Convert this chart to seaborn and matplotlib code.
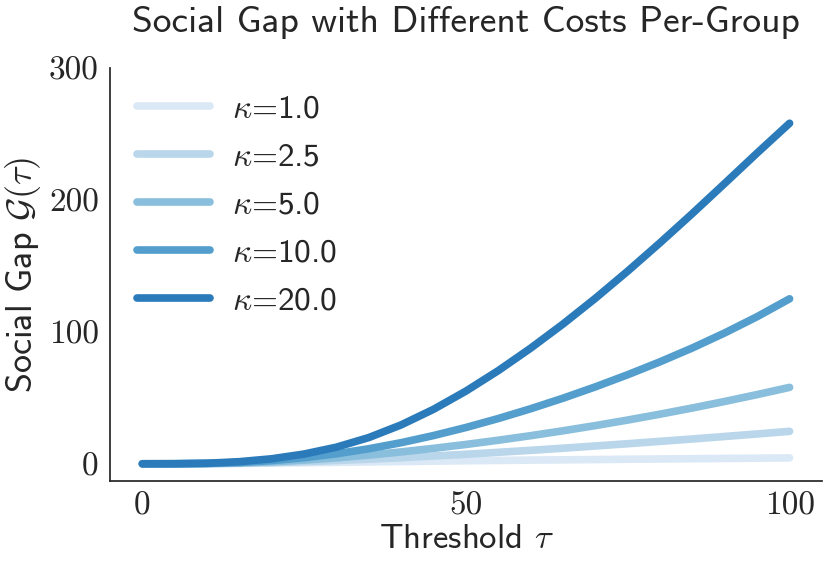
import matplotlib
matplotlib.use("Agg")
import matplotlib.pyplot as plt
import seaborn as sns
import pandas as pd

# todo: values
tau = [0, 5, 10, 15, 20, 25, 30, 35, 40, 45, 50,
       55, 60, 65, 70, 75, 80, 85, 90, 95, 100]
gap_k1 = [0, 0.01, 0.08, 0.25, 0.5, 0.8, 1.1, 1.4, 1.7, 2.0, 2.3,
          2.55, 2.8, 3.0, 3.2, 3.45, 3.65, 3.85, 4.05, 4.25, 4.45]
gap_k2_5 = [0, 0.01, 0.13, 0.43, 0.93, 1.6, 2.5, 3.5, 4.6, 5.9, 7.2,
            8.7, 10.2, 11.8, 13.5, 15.2, 17.0, 18.8, 20.7, 22.6, 24.6]
gap_k5 = [0, 0.02, 0.2, 0.65, 1.5, 2.8, 4.5, 6.6, 9.0, 11.7, 14.65,
          17.85, 21.3, 25.0, 28.95, 33.15, 37.6, 42.3, 47.25, 52.45, 57.9]
gap_k10 = [0, 0.03, 0.3, 1.0, 2.4, 4.6, 7.6, 11.4, 16.0, 21.4, 27.5,
           34.3, 41.7, 49.7, 58.3, 67.5, 77.3, 87.8, 99.2, 111.5, 125.0]
gap_k20 = [0, 0.05, 0.4, 1.6, 3.8, 7.4, 12.6, 19.9, 29.5, 41.3, 55.1,
           70.6, 87.6, 105.9, 125.4, 146.0, 167.5, 189.7, 212.5, 235.5, 258.0]
kappas = ["1.0", "2.5", "5.0", "10.0", "20.0"]

df = pd.concat([
    pd.DataFrame({"tau": tau, "gap": g, "kappa": k})
    for k, g in zip(kappas, [gap_k1, gap_k2_5, gap_k5, gap_k10, gap_k20])
])
df["label"] = r"$\kappa$=" + df["kappa"]

# todo: style
sns.set_theme(style="white")
plt.rcParams["font.family"] = ["cmss10", "DejaVu Sans"]
plt.rcParams["mathtext.fontset"] = "cm"
plt.rcParams["axes.unicode_minus"] = False

palette = sns.color_palette("Blues", 6)[:5]

fig = plt.figure(figsize=(8.3, 5.65), dpi=100)
ax = fig.add_axes([0.1325, 0.149, 0.8578, 0.731])
sns.lineplot(data=df, x="tau", y="gap", hue="label", palette=palette,
             linewidth=5.5, ax=ax, solid_capstyle="round")
ax.set_ylim(top=300)
ax.set_yticks([0, 100, 200, 300])
ax.set_xticks([0, 50, 100])
for lab in ax.get_xticklabels() + ax.get_yticklabels():
    lab.set_fontfamily("cmr10")
    lab.set_fontsize(24)
ax.tick_params(axis="both", pad=2)
sns.despine(ax=ax)

ax.set_title("Social Gap with Different Costs Per-Group", fontsize=27, pad=26)
ax.set_xlabel(r"Threshold $\tau$", fontsize=25, labelpad=2)
ax.set_ylabel(r"Social Gap $\mathcal{G}(\tau)$", fontsize=26, labelpad=4)

leg = ax.legend(frameon=False, fontsize=24, loc="upper left",
                handlelength=2.2, handletextpad=0.66, labelspacing=0.56,
                borderaxespad=0.4)
for line in leg.get_lines():
    line.set_linewidth(5.5)
    line.set_solid_capstyle("round")

fig.savefig("out.png", dpi=100)
